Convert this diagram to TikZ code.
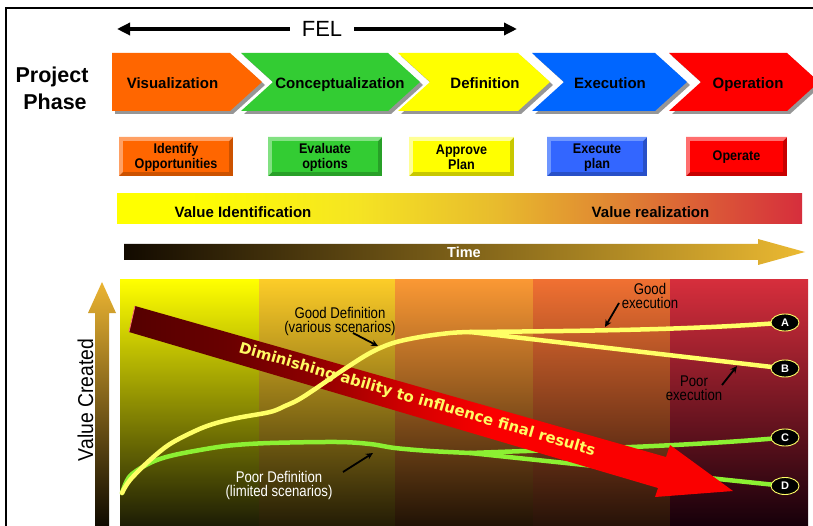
\documentclass[tikz,border=0pt]{standalone}
\usepackage{fontspec}
\setmainfont{Liberation Sans}
\newfontfamily\narrowfont[FakeStretch=0.85]{Liberation Sans}
\newfontfamily\narrowbold[FakeStretch=0.9]{Liberation Sans}
\newfontfamily\vcfont[FakeStretch=0.9]{Liberation Sans}
\newfontfamily\dejavu{DejaVu Sans}
\usetikzlibrary{arrows.meta,shapes.geometric}

\definecolor{chorange}{RGB}{255,102,0}
\definecolor{chgreen}{RGB}{51,204,51}
\definecolor{chyellow}{RGB}{255,255,0}
\definecolor{chblue}{RGB}{0,102,255}
\definecolor{chred}{RGB}{255,0,0}
\definecolor{shadowgray}{RGB}{150,150,150}
% buttons
\definecolor{bAface}{RGB}{255,102,0}\definecolor{bAlight}{RGB}{255,160,100}\definecolor{bAdark}{RGB}{204,82,0}
\definecolor{bBface}{RGB}{51,204,51}\definecolor{bBlight}{RGB}{130,225,130}\definecolor{bBdark}{RGB}{40,160,40}
\definecolor{bCface}{RGB}{255,255,0}\definecolor{bClight}{RGB}{255,255,150}\definecolor{bCdark}{RGB}{200,200,0}
\definecolor{bDface}{RGB}{51,102,255}\definecolor{bDlight}{RGB}{110,150,255}\definecolor{bDdark}{RGB}{40,80,200}
\definecolor{bEface}{RGB}{255,0,0}\definecolor{bElight}{RGB}{255,110,110}\definecolor{bEdark}{RGB}{200,0,0}
% value bar
\definecolor{vb1}{RGB}{255,255,0}
\definecolor{vb2}{RGB}{245,228,35}
\definecolor{vb3}{RGB}{232,188,45}
\definecolor{vb4}{RGB}{224,135,50}
\definecolor{vb5}{RGB}{214,46,60}
\pgfdeclarehorizontalshading{valbar}{100bp}{color(0bp)=(vb1); color(25bp)=(vb1); color(30bp)=(vb1); color(42.5bp)=(vb2); color(52.5bp)=(vb3); color(61bp)=(vb4); color(75bp)=(vb5); color(100bp)=(vb5)}
% big arrow
\definecolor{ba1}{RGB}{85,0,0}
\definecolor{ba2}{RGB}{105,0,0}
\definecolor{ba3}{RGB}{140,0,0}
\definecolor{ba4}{RGB}{210,0,0}
\definecolor{ba5}{RGB}{250,0,0}
\pgfdeclarehorizontalshading{bigarrow}{100bp}{color(0bp)=(ba1); color(25bp)=(ba1); color(33bp)=(ba2); color(40bp)=(ba3); color(48bp)=(ba4); color(55bp)=(ba5); color(75bp)=(ba5); color(100bp)=(ba5)}
% time and value arrows
\definecolor{timedark}{RGB}{18,10,0}
\definecolor{timegold}{RGB}{236,186,50}
\definecolor{vcgold}{RGB}{235,180,50}
\definecolor{vcdark}{RGB}{15,10,0}
% chart bands
\definecolor{k1t}{RGB}{255,255,0}\definecolor{k1m}{RGB}{180,180,0}\definecolor{k1b}{RGB}{28,28,5}
\definecolor{k2t}{RGB}{252,204,40}\definecolor{k2m}{RGB}{185,145,30}\definecolor{k2b}{RGB}{35,28,5}
\definecolor{k3t}{RGB}{250,152,52}\definecolor{k3m}{RGB}{170,100,40}\definecolor{k3b}{RGB}{32,18,5}
\definecolor{k4t}{RGB}{240,112,50}\definecolor{k4m}{RGB}{175,80,40}\definecolor{k4b}{RGB}{38,18,8}
\definecolor{k5t}{RGB}{214,46,60}\definecolor{k5m}{RGB}{140,25,42}\definecolor{k5b}{RGB}{22,0,10}
% curves
\definecolor{curveyellow}{RGB}{255,255,102}
\definecolor{curvegreen}{RGB}{140,240,50}
\definecolor{dimyellow}{RGB}{255,250,100}

\newcommand\chev[4]{% #1 left x, #2 notch depth, #3 top-right x, #4 colour
  \fill[shadowgray] (#1+3,56) -- (#3+3,56) -- (#3+35,85) -- (#3+3,114) -- (#1+3,114) -- (#1+#2+3,85) -- cycle;
  \fill[#4] (#1,53) -- (#3,53) -- (#3+32,82) -- (#3,111) -- (#1,111) -- (#1+#2,82) -- cycle;
}
\newcommand\bevbtn[7]{% #1 name, #2 x1, #3 x2, #4 face, #5 light, #6 dark, #7 text
  \fill[#6] (#2,137) rectangle (#3,176);
  \fill[#5] (#2,176) -- (#2,137) -- (#3,137) -- (#3-4,141) -- (#2+4,141) -- (#2+4,172) -- cycle;
  \fill[#4] (#2+4,141) rectangle (#3-4,172);
  \node[btntext] (#1) at ({(#2+#3)/2},157.5) {#7};
}

\begin{document}
\begin{tikzpicture}[x=1pt,y=-1pt,
  every node/.style={inner sep=0pt, outer sep=0pt},
  chevtext/.style={font=\fontsize{15}{18}\selectfont\bfseries, anchor=base},
  btntext/.style={font=\narrowbold\fontsize{14}{15.5}\selectfont\bfseries, align=center},
  bartext/.style={font=\fontsize{15}{18}\selectfont\bfseries, anchor=base},
  anntext/.style={font=\narrowfont\fontsize{15.5}{14.5}\selectfont, align=center},
  annarrow/.style={-{Stealth[length=7pt,width=6.5pt]}, line width=1.8pt},
  felarrow/.style={-{Triangle[length=13pt,width=12pt]}, line width=3.6pt},
  ycurve/.style={line width=4.5pt, draw=curveyellow, line cap=round, line join=round},
  gcurve/.style={line width=4.5pt, draw=curvegreen, line cap=round, line join=round},
  endlab/.style={ellipse, draw=curveyellow, fill=black, line width=0.9pt, minimum width=28pt, minimum height=17pt, text=white, font=\fontsize{11}{13}\selectfont\bfseries},
]
\useasboundingbox (0,0) rectangle (813,526);
\fill[white] (0,0) rectangle (813,526);

% frame
\draw[line width=2.7pt] (6,527) |- (814,8);

% FEL arrow
\node[font=\fontsize{22}{24}\selectfont, inner xsep=12pt] (fel) at (322,29) {FEL};
\coordinate (felL) at (117,29);
\coordinate (felR) at (517,29);
\draw[felarrow] (fel.west) -- (felL);
\draw[felarrow] (fel.east) -- (felR);

% Project Phase
\node[font=\fontsize{21.5}{26}\selectfont\bfseries, anchor=base] (proj) at (52,82.7) {Project};
\node[font=\fontsize{21.5}{26}\selectfont\bfseries, anchor=base] (phase) at (55,109.7) {Phase};

% chevrons
\chev{112}{0}{230}{chorange}
\chev{241}{32}{388}{chgreen}
\chev{398}{32}{518}{chyellow}
\chev{532}{32}{655}{chblue}
\chev{669}{32}{787}{chred}
\node[chevtext] (vis) at (172.5,88.5) {Visualization};
\node[chevtext] (con) at (340,88.5) {Conceptualization};
\node[chevtext] (def) at (485,88.5) {Definition};
\node[chevtext] (exe) at (610,88.5) {Execution};
\node[chevtext] (ope) at (748,88.5) {Operation};

% buttons
\bevbtn{idopp}{119}{233}{bAface}{bAlight}{bAdark}{Identify\\Opportunities}
\bevbtn{evopt}{268}{382}{bBface}{bBlight}{bBdark}{Evaluate\\options}
\bevbtn{appl}{409}{514}{bCface}{bClight}{bCdark}{Approve\\Plan}
\bevbtn{expl}{547}{647}{bDface}{bDlight}{bDdark}{Execute\\plan}
\bevbtn{oper}{686}{787}{bEface}{bElight}{bEdark}{Operate}

% value bar
\shade[shading=valbar] (117,194) rectangle (802,224);
\node[bartext] (vid) at (243,217.5) {Value Identification};
\node[bartext] (vre) at (650.5,217.5) {Value realization};

% time arrow
\shade[left color=timedark, right color=timegold] (124,244) -- (758,244) -- (758,239) -- (805,252) -- (758,265) -- (758,260) -- (124,260) -- cycle;
\node[font=\fontsize{14.5}{17}\selectfont\bfseries, text=white, anchor=base] (time) at (464,258) {Time};

% chart bands
\shade[top color=k1t, middle color=k1m, bottom color=k1b] (120,280) rectangle (259,526);
\shade[top color=k2t, middle color=k2m, bottom color=k2b] (259,280) rectangle (395,526);
\shade[top color=k3t, middle color=k3m, bottom color=k3b] (395,280) rectangle (533,526);
\shade[top color=k4t, middle color=k4m, bottom color=k4b] (533,280) rectangle (670,526);
\shade[top color=k5t, middle color=k5m, bottom color=k5b] (670,280) rectangle (808,526);

% value created arrow
\shade[top color=vcgold, bottom color=vcdark] (95,526) -- (95,313) -- (88,313) -- (102,282) -- (116,313) -- (109,313) -- (109,526) -- cycle;
\node[rotate=90, anchor=base, font=\vcfont\fontsize{21.5}{24}\selectfont] (vc) at (93,400) {Value Created};

% label positions
\coordinate (Apos) at (785,322.5);
\coordinate (Bpos) at (785,368.5);
\coordinate (Cpos) at (785,437.5);
\coordinate (Dpos) at (785,486);
\coordinate (yj) at (470,332);
\coordinate (gj) at (470,453);

% green curves (under the big arrow)
\draw[gcurve] plot[smooth, tension=0.55] coordinates {(122,493) (130,476) (150,463) (170,456) (200,450) (230,445.5) (270,443) (337,442) (370,444) (395,448) (430,451) (470,453)};
\draw[gcurve] (gj) .. controls (580,449) and (690,446) .. (Cpos);
\draw[gcurve] (gj) -- (Dpos);

% big arrow
\shade[shading=bigarrow] (135,306) -- (666,457) -- (670,445) -- (733,491) -- (655,497) -- (658,488) -- (129,332) -- cycle;
\draw[red!40!pink, line width=0.8pt] (135,306) -- (129,332);

% yellow curves
\draw[ycurve] plot[smooth, tension=0.55] coordinates {(122,493) (130,480) (150,460) (170,444) (195,431) (213,424) (237,418) (270,412) (285,406) (303,397) (343,370) (370,353) (393,343) (420,337) (450,333) (470,332)};
\draw[ycurve] (yj) .. controls (580,331) and (690,330) .. (Apos);
\draw[ycurve] (yj) -- (Bpos);

\node[rotate=-16.2, font=\dejavu\bfseries\fontsize{15}{18}\selectfont, text=dimyellow] (dim) at (417,400) {Diminishing ability to influence final results};

% end labels
\node[endlab] (A) at (Apos) {A};
\node[endlab] (B) at (Bpos) {B};
\node[endlab] (C) at (Cpos) {C};
\node[endlab] (D) at (Dpos) {D};

% annotations
\node[anntext] (gdef) at (340,321.5) {Good Definition\\(various scenarios)};
\node[anntext, text=white] (pdef) at (279,485.5) {Poor Definition\\(limited scenarios)};
\node[anntext] (gexe) at (650,296) {Good\\execution};
\node[anntext] (pexe) at (694,388) {Poor\\execution};
\coordinate (gdT) at (353,333); \coordinate (gdH) at (378,346);
\coordinate (pdT) at (343,472); \coordinate (pdH) at (373,453);
\coordinate (geT) at (619,303); \coordinate (geH) at (605,327);
\coordinate (peT) at (722,385); \coordinate (peH) at (737,366);
\draw[annarrow] (gdT) -- (gdH);
\draw[annarrow] (pdT) -- (pdH);
\draw[annarrow] (geT) -- (geH);
\draw[annarrow] (peT) -- (peH);
\end{tikzpicture}
\end{document}
